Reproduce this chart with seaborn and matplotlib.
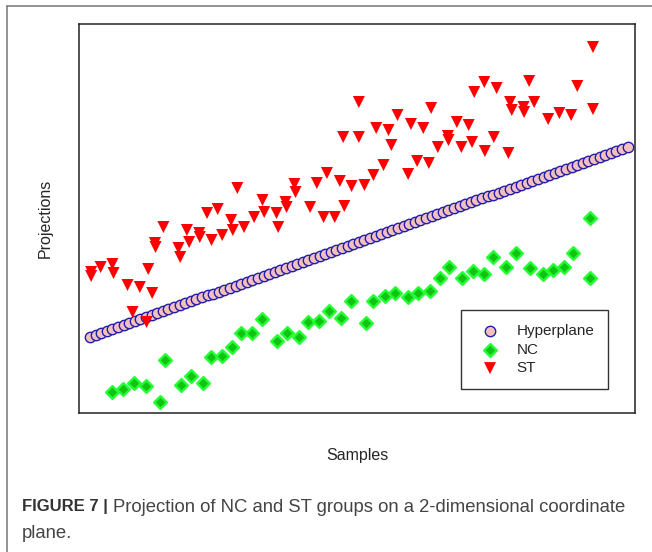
import numpy as np
import pandas as pd
import matplotlib
matplotlib.use("Agg")
import matplotlib.pyplot as plt
import seaborn as sns
from matplotlib.lines import Line2D

# hyperplane projections, one per sample index
hyper_y = [7.60, 7.80, 8.00, 8.19, 8.39, 8.59, 8.79, 8.99, 9.18, 9.38,
           9.58, 9.78, 9.97, 10.17, 10.37, 10.57, 10.77, 10.96, 11.16, 11.36,
           11.56, 11.76, 11.95, 12.15, 12.35, 12.55, 12.75, 12.94, 13.14, 13.34,
           13.54, 13.74, 13.93, 14.13, 14.33, 14.53, 14.73, 14.92, 15.12, 15.32,
           15.52, 15.72, 15.91, 16.11, 16.31, 16.51, 16.71, 16.90, 17.10, 17.30,
           17.50, 17.70, 17.89, 18.09, 18.29, 18.49, 18.69, 18.88, 19.08, 19.28,
           19.48, 19.68, 19.87, 20.07, 20.27, 20.47, 20.67, 20.86, 21.06, 21.26,
           21.46, 21.66, 21.85, 22.05, 22.25, 22.45, 22.65, 22.84, 23.04, 23.24,
           23.43, 23.63, 23.83, 24.03, 24.23, 24.43, 24.62, 24.82, 25.02, 25.22,
           25.41, 25.61, 25.81, 26.01, 26.21, 26.40, 26.60]
hyper_x = list(range(1, len(hyper_y) + 1))

# ST group
st_x = [1.2, 1.2, 2.9, 5.0, 5.2, 7.7, 9.9, 11.4, 12.1, 8.6, 11.1, 12.6, 12.7,
        14.1, 16.8, 17.1, 18.3, 18.7, 20.5, 20.6, 21.9, 22.7, 23.8, 24.6, 26.2,
        26.5, 27.3, 28.5, 30.3, 31.8, 32.1, 34.3, 34.6, 35.9, 36.1, 37.5, 37.7,
        40.3, 41.5, 42.7, 43.3, 44.7, 45.6, 46.4, 46.2, 47.7, 49.0, 49.0, 50.0,
        51.6, 53.4, 52.1, 54.3, 54.8, 55.9, 57.8, 58.3, 59.4, 60.5, 61.5, 61.9,
        63.1, 64.9, 65.0, 66.5, 67.3, 68.6, 69.2, 69.6, 71.4, 71.5, 73.1, 73.6,
        75.7, 76.0, 76.3, 78.4, 78.5, 79.4, 80.3, 82.8, 84.8, 86.9, 88.0, 90.8,
        90.8]
st_y = [14.1, 13.7, 14.6, 14.9, 14.0, 12.8, 12.6, 14.4, 12.0, 10.1, 9.1, 17.0,
        16.6, 18.6, 16.5, 15.6, 18.3, 17.1, 18.0, 17.6, 20.0, 17.3, 20.4, 17.8,
        19.3, 18.3, 22.5, 18.6, 19.6, 21.3, 20.1, 20.0, 18.6, 21.1, 20.6, 22.9,
        22.1, 20.6, 23.0, 19.6, 24.0, 19.6, 23.2, 20.7, 27.6, 22.7, 31.1, 27.6,
        22.8, 23.8, 24.8, 28.5, 28.3, 26.8, 29.8, 23.9, 28.9, 25.2, 28.5, 25.0,
        30.5, 26.6, 27.7, 27.3, 29.1, 26.6, 28.8, 27.1, 32.1, 33.1, 26.2, 27.6,
        32.5, 26.0, 31.1, 30.3, 30.6, 30.1, 33.2, 31.1, 29.4, 30.0, 29.8, 32.7,
        36.6, 30.4]

# NC group
nc_x = [5.0, 6.9, 8.9, 11.0, 13.5, 14.4, 17.3, 19.0, 21.2, 22.6, 24.5, 26.3,
        27.9, 29.9, 31.7, 34.3, 36.1, 38.4, 39.9, 41.9, 43.7, 45.9, 47.6, 50.3,
        51.6, 53.6, 55.5, 57.7, 59.6, 61.7, 63.4, 65.1, 67.4, 69.3, 71.4, 72.9,
        75.3, 77.0, 79.6, 81.8, 83.7, 85.6, 87.3, 90.3, 90.3]
nc_y = [2.1, 2.4, 3.0, 2.7, 1.1, 5.3, 2.8, 3.7, 3.0, 5.6, 5.7, 6.6, 8.0, 8.0,
        9.4, 7.2, 8.0, 7.6, 9.1, 9.2, 10.2, 9.5, 11.2, 9.0, 11.2, 11.7, 12.0,
        11.6, 12.0, 12.2, 13.5, 14.6, 13.5, 14.2, 13.9, 15.6, 14.6, 16.0, 14.5,
        13.9, 14.3, 14.6, 16.0, 19.5, 13.5]

sns.set_style("white")
plt.rcParams['font.family'] = ['Liberation Sans', 'DejaVu Sans']

fig = plt.figure(figsize=(6.52, 5.52), dpi=100)
ax = fig.add_axes([0.1212, 0.2518, 0.8527, 0.7047])

sns.scatterplot(x=hyper_x, y=hyper_y, ax=ax, marker='o', s=56,
                color='#F4BFC0', edgecolor='#1F1FA8', linewidth=1.0,
                label='Hyperplane', zorder=3)
sns.scatterplot(x=nc_x, y=nc_y, ax=ax, marker='D', s=42,
                color='#12C412', edgecolor='#22FF33', linewidth=1.7,
                label='NC', zorder=3)
sns.scatterplot(x=st_x, y=st_y, ax=ax, marker='v', s=75,
                color='#FF0000', edgecolor='none', linewidth=0,
                label='ST', zorder=3)

ax.set_xlim(-0.96, 98.3)
ax.set_ylim(0, 38.9)
ax.set_xticks([])
ax.set_yticks([])
for sp in ax.spines.values():
    sp.set_color('#222222')
    sp.set_linewidth(1.1)

ax.set_xlabel('Samples', fontsize=11.5, labelpad=25)
ax.set_ylabel('Projections', fontsize=11.5, labelpad=19)

leg = ax.legend(loc='lower left', bbox_to_anchor=(0.687, 0.062),
                fontsize=11, frameon=True, fancybox=False, borderpad=0.9,
                labelspacing=0.3, handletextpad=0.75, borderaxespad=0,
                handlelength=2.0)
leg.get_frame().set_edgecolor('black')
leg.get_frame().set_linewidth(1.0)

# outer panel border lines (top and left)
fig.add_artist(Line2D([7 / 652, 1], [1 - 6 / 552, 1 - 6 / 552],
                      transform=fig.transFigure, color='#808080', lw=1.2))
fig.add_artist(Line2D([7 / 652, 7 / 652], [0, 1 - 6 / 552],
                      transform=fig.transFigure, color='#808080', lw=1.2))

# caption
t1 = fig.text(22 / 652, 1 - 507 / 552, 'FIGURE 7 |', fontsize=12,
              fontweight='bold', color='#333333', va='center')
fig.canvas.draw()
bb = t1.get_window_extent()
x2 = (bb.x1 + 5) / fig.bbox.width
fig.text(x2, 1 - 507 / 552,
         'Projection of NC and ST groups on a 2-dimensional coordinate',
         fontsize=13.3, color='#444444', va='center')
fig.text(22 / 652, 1 - 533 / 552, 'plane.', fontsize=13.3, color='#444444',
         va='center')

fig.savefig('out.png', dpi=100)
